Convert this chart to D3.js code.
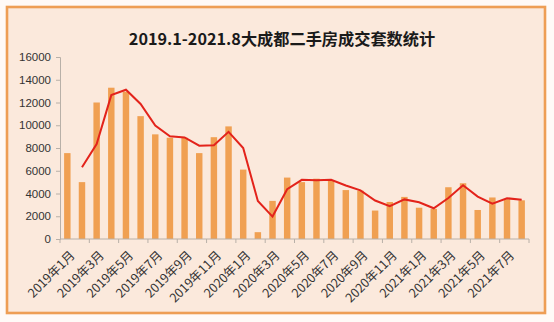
<!DOCTYPE html>
<html><head><meta charset="utf-8">
<script src="https://cdn.jsdelivr.net/npm/d3@7"></script>
<style>
html,body{margin:0;padding:0;background:#fff;}
svg{display:block;}
</style></head>
<body>
<svg id="chart" width="554" height="322"></svg>
<script>
const title = "2019.1-2021.8大成都二手房成交套数统计";
const months = [
 "2019年1月","2019年2月","2019年3月","2019年4月","2019年5月","2019年6月","2019年7月","2019年8月",
 "2019年9月","2019年10月","2019年11月","2019年12月","2020年1月","2020年2月","2020年3月","2020年4月",
 "2020年5月","2020年6月","2020年7月","2020年8月","2020年9月","2020年10月","2020年11月","2020年12月",
 "2021年1月","2021年2月","2021年3月","2021年4月","2021年5月","2021年6月","2021年7月","2021年8月"];
const deals = [7550,5000,12000,13300,12950,10800,9200,8900,
 8900,7550,8950,9900,6100,600,3350,5400,
 5000,5300,5100,4300,4250,2500,3250,3700,
 2750,2650,4550,4900,2550,3650,3500,3400];
// two-month moving-average trend line (starts at 2019年2月)
const trend = [null,6300,8350,12650,13120,11870,9980,9030,
 8930,8200,8250,9420,8000,3350,1970,4380,
 5200,5160,5200,4700,4280,3380,2880,3480,
 3230,2700,3600,4720,3730,3100,3580,3450];
const yTicks = [0,2000,4000,6000,8000,10000,12000,14000,16000];

const svg = d3.select("#chart");
const W = 554, H = 322;
// frame
svg.append("rect").attr("x",0).attr("y",0).attr("width",W).attr("height",H).attr("fill","#fffaf7");
svg.append("rect").attr("x",7).attr("y",7).attr("width",538).attr("height",306)
  .attr("fill","#fbe9dc").attr("stroke","#ee9e55").attr("stroke-width",2.6);

const m = {left:60, right:529, top:57, bottom:239};
const x = d3.scaleBand().domain(months).range([m.left,m.right]).paddingInner(0.56).paddingOuter(0.28);
const y = d3.scaleLinear().domain([0,16000]).range([m.bottom,m.top]);

svg.append("text").attr("x",282).attr("y",45).attr("text-anchor","middle")
  .attr("font-family","'Noto Sans CJK SC','Liberation Sans',sans-serif").attr("font-weight","bold")
  .attr("font-size",16.2).attr("fill","#1a1a1a").text(title);

// y axis
const yAxis = d3.axisLeft(y).tickValues(yTicks).tickSize(4).tickPadding(5).tickFormat(d3.format("d"));
const gy = svg.append("g").attr("transform",`translate(${m.left},0)`).call(yAxis);
gy.selectAll("path,line").attr("stroke","#b8b0a8");
gy.selectAll("text").attr("font-family","'Liberation Sans',Arial,sans-serif").attr("font-size",11.5).attr("fill","#333");

// bars
svg.append("g").selectAll("rect").data(deals).join("rect")
  .attr("x",(d,i)=>x(months[i])).attr("width",x.bandwidth())
  .attr("y",d=>y(d)).attr("height",d=>y(0)-y(d)).attr("fill","#f0a052");

// x axis
const step = x.step();
const gx = svg.append("g").attr("transform",`translate(0,${m.bottom})`);
gx.append("line").attr("x1",m.left).attr("x2",m.right).attr("stroke","#b8b0a8");
const tickIdx = d3.range(0, months.length+1, 2);
gx.selectAll("line.tk").data(tickIdx).join("line").attr("class","tk")
  .attr("x1",i=>m.left+i*step).attr("x2",i=>m.left+i*step).attr("y1",0).attr("y2",4).attr("stroke","#b8b0a8");
const labIdx = d3.range(0, months.length, 2);
gx.selectAll("text").data(labIdx).join("text")
  .attr("transform",i=>`translate(${x(months[i])+x.bandwidth()/2+2},${11}) rotate(-45)`)
  .attr("text-anchor","end").attr("dy","0.7em")
  .attr("font-family","'Noto Sans CJK SC','Liberation Sans',sans-serif").attr("font-size",12.5)
  .attr("fill","#333").text(i=>months[i]);

// trend line
const line = d3.line().defined(d=>d!==null)
  .x((d,i)=>x(months[i])+x.bandwidth()/2).y(d=>y(d));
svg.append("path").datum(trend).attr("d",line).attr("fill","none")
  .attr("stroke","#e3231b").attr("stroke-width",2);
</script>
</body></html>
